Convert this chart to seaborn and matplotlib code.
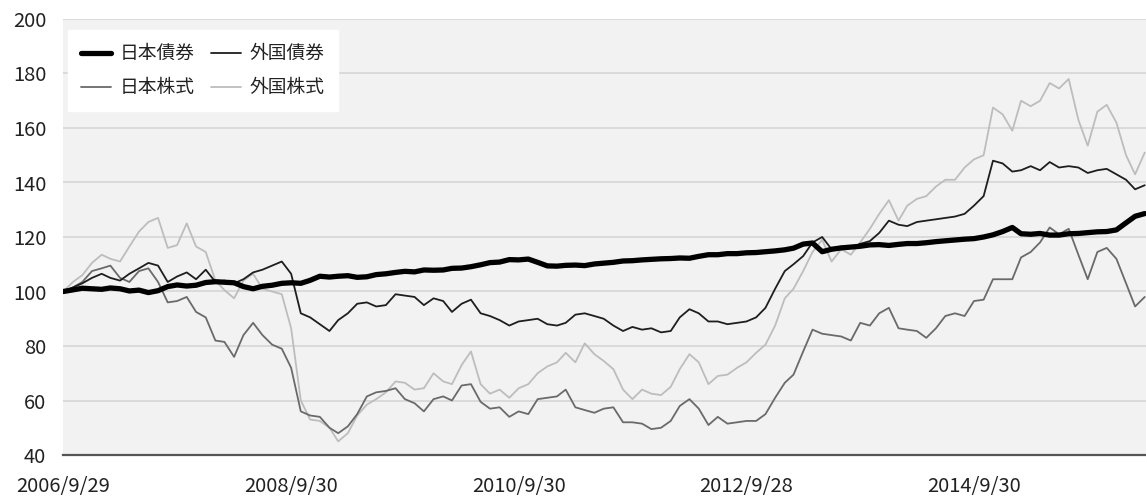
import pandas as pd
import numpy as np
import matplotlib
matplotlib.use("Agg")
import matplotlib.pyplot as plt
import seaborn as sns

# month-end values, 2006/9 - 2016/3 (index, 2006/9/29 = 100)
jp_bond = [
    100.0, 100.6, 101.2, 101.0,
    100.8, 101.3, 101.0, 100.2, 100.5, 99.6, 100.3, 101.8, 102.4, 102.0, 102.3, 103.3,
    103.6, 103.4, 103.2, 101.8, 101.0, 101.9, 102.3, 103.0, 103.2, 103.0, 104.1, 105.6,
    105.3, 105.6, 105.8, 105.2, 105.4, 106.2, 106.5, 107.0, 107.4, 107.2, 107.9, 107.8,
    107.9, 108.5, 108.6, 109.1, 109.8, 110.6, 110.8, 111.7, 111.6, 111.9, 110.7, 109.4,
    109.3, 109.6, 109.7, 109.5, 110.1, 110.4, 110.7, 111.2, 111.3, 111.6, 111.8, 112.0,
    112.1, 112.3, 112.2, 112.9, 113.5, 113.5, 113.9, 113.9, 114.2, 114.3, 114.6, 114.9,
    115.3, 115.9, 117.4, 117.8, 114.6, 115.5, 116.0, 116.3, 116.6, 117.1, 117.2, 116.9,
    117.3, 117.6, 117.6, 117.9, 118.3, 118.6, 118.9, 119.2, 119.4, 120.0, 120.8, 122.0,
    123.5, 121.2, 121.0, 121.3, 120.7, 120.7, 121.2, 121.3, 121.6, 121.9, 122.0, 122.6,
    125.2, 127.6, 128.6,
]
fx_bond = [
    100.0, 101.5, 103.0, 105.0,
    106.5, 105.0, 104.0, 106.5, 108.5, 110.5, 109.5, 103.5, 105.5, 107.0, 104.5, 108.0,
    103.5, 104.0, 103.0, 104.5, 107.0, 108.0, 109.5, 111.0, 106.5, 92.0, 90.5, 88.0,
    85.5, 89.5, 92.0, 95.5, 96.0, 94.5, 95.0, 99.0, 98.5, 98.0, 95.0, 97.5,
    96.5, 92.5, 95.5, 97.0, 92.0, 91.0, 89.5, 87.5, 89.0, 89.5, 90.0, 88.0,
    87.5, 88.5, 91.5, 92.0, 91.0, 90.0, 87.5, 85.5, 87.0, 86.0, 86.5, 85.0,
    85.5, 90.5, 93.5, 92.0, 89.0, 89.0, 88.0, 88.5, 89.0, 90.5, 94.0, 101.0,
    107.5, 110.0, 113.0, 118.0, 120.0, 115.5, 116.5, 116.0, 117.5, 118.5, 121.5, 126.0,
    124.5, 124.0, 125.5, 126.0, 126.5, 127.0, 127.5, 128.5, 131.5, 135.0, 148.0, 147.0,
    144.0, 144.5, 146.0, 144.5, 147.5, 145.5, 146.0, 145.5, 143.5, 144.5, 145.0, 143.0,
    141.0, 137.5, 139.0,
]
jp_stock = [
    100.0, 101.5, 103.5, 107.5,
    108.5, 109.5, 105.0, 103.5, 107.5, 108.5, 103.5, 96.0, 96.5, 98.0, 92.5, 90.5,
    82.0, 81.5, 76.0, 84.0, 88.5, 84.0, 80.5, 79.0, 72.0, 56.0, 54.5, 54.0,
    50.0, 48.0, 50.5, 55.0, 61.5, 63.0, 63.5, 64.5, 60.5, 59.0, 56.0, 60.5,
    61.5, 60.0, 65.5, 66.0, 59.5, 57.0, 57.5, 54.0, 56.0, 55.0, 60.5, 61.0,
    61.5, 64.0, 57.5, 56.5, 55.5, 57.0, 57.5, 52.0, 52.0, 51.5, 49.5, 50.0,
    52.5, 58.0, 60.5, 57.0, 51.0, 54.0, 51.5, 52.0, 52.5, 52.5, 55.0, 61.0,
    66.5, 69.5, 78.0, 86.0, 84.5, 84.0, 83.5, 82.0, 88.5, 87.5, 92.0, 94.0,
    86.5, 86.0, 85.5, 83.0, 86.5, 91.0, 92.0, 91.0, 96.5, 97.0, 104.5, 104.5,
    104.5, 112.5, 114.5, 118.0, 123.5, 121.0, 123.0, 113.5, 104.5, 114.5, 116.0, 112.0,
    103.0, 94.5, 98.0,
]
fx_stock = [
    100.0, 103.5, 106.0, 110.5,
    113.5, 112.0, 111.0, 116.5, 122.0, 125.5, 127.0, 116.0, 117.0, 125.0, 116.5, 114.5,
    104.0, 100.5, 97.5, 104.0, 106.5, 101.0, 100.0, 99.0, 86.5, 60.0, 53.0, 52.5,
    50.0, 45.0, 48.0, 54.5, 58.5, 60.5, 63.0, 67.0, 66.5, 64.0, 64.5, 70.0,
    67.0, 66.0, 73.0, 78.0, 66.0, 62.5, 64.0, 61.0, 64.5, 66.0, 70.0, 72.5,
    74.0, 77.5, 74.0, 81.0, 77.0, 74.5, 71.5, 64.0, 60.5, 64.0, 62.5, 62.0,
    65.0, 71.5, 77.0, 74.0, 66.0, 69.0, 69.5, 72.0, 74.0, 77.5, 80.5, 87.5,
    97.5, 101.0, 107.5, 114.5, 119.0, 111.0, 115.5, 113.5, 118.0, 123.0, 128.5, 133.5,
    126.0, 131.5, 134.0, 135.0, 138.5, 141.0, 141.0, 145.5, 148.5, 150.0, 167.5, 165.0,
    159.0, 170.0, 168.0, 170.0, 176.5, 174.5, 178.0, 163.0, 153.5, 166.0, 168.5, 162.0,
    150.0, 143.0, 151.0,
]
dates = pd.date_range("2006-09-30", "2016-03-31", freq="ME")

tick_dates = ["2006-09-29", "2008-09-30", "2010-09-30", "2012-09-28", "2014-09-30"]
tick_labels = ["2006/9/29", "2008/9/30", "2010/9/30", "2012/9/28", "2014/9/30"]

sns.set_theme(style="white")
plt.rcParams["font.family"] = ["Noto Sans CJK JP", "DejaVu Sans"]

fig = plt.figure(figsize=(11.46, 4.98), dpi=100)
ax = fig.add_axes([63 / 1146, 1 - 455 / 498, 1 - 63 / 1146, (455 - 19) / 498])
ax.set_facecolor("#f2f2f2")

# light lines first, thick bond line on top
sns.lineplot(x=dates, y=fx_stock, ax=ax, color="#bdbdbd", lw=1.3, label="外国株式")
sns.lineplot(x=dates, y=jp_stock, ax=ax, color="#6a6a6a", lw=1.3, label="日本株式")
sns.lineplot(x=dates, y=fx_bond, ax=ax, color="#1e1e1e", lw=1.3, label="外国債券")
sns.lineplot(x=dates, y=jp_bond, ax=ax, color="#000000", lw=3.8, label="日本債券")

ax.set_ylim(40, 200)
ax.set_yticks(range(40, 201, 20))
ax.set_xlim(pd.Timestamp("2006-09-29"), pd.Timestamp("2016-04-04"))
ax.set_xticks(pd.to_datetime(tick_dates))
ax.set_xticklabels(tick_labels)
ax.set_xlabel("")
ax.set_ylabel("")

ax.grid(axis="y", color="#dadada", lw=1.4)
ax.grid(axis="x", visible=False)
ax.set_axisbelow(True)
for s in ["top", "right", "left"]:
    ax.spines[s].set_visible(False)
ax.spines["bottom"].set_color("#555555")
ax.spines["bottom"].set_linewidth(1.6)

ax.tick_params(axis="y", length=0, pad=12, labelsize=14.5, labelcolor="#222222")
ax.tick_params(axis="x", direction="in", length=4, width=1, color="#555555",
               pad=15, labelsize=14.5, labelcolor="#222222")

# legend: bonds on first row, stocks on second
h, l = ax.get_legend_handles_labels()
order = [l.index(n) for n in ["日本債券", "日本株式", "外国債券", "外国株式"]]
leg = ax.legend([h[i] for i in order], [l[i] for i in order], ncol=2,
                loc="upper left", bbox_to_anchor=(5 / 1083, 1 - 11 / 436),
                borderaxespad=0, frameon=True, fancybox=False, framealpha=1,
                handlelength=1.6, handletextpad=0.45, columnspacing=0.9,
                labelspacing=0.7, borderpad=0.7, fontsize=13.5)
leg.get_frame().set_facecolor("white")
leg.get_frame().set_edgecolor("white")
for t in leg.get_texts():
    t.set_color("#222222")

fig.savefig("out.png", dpi=100)
